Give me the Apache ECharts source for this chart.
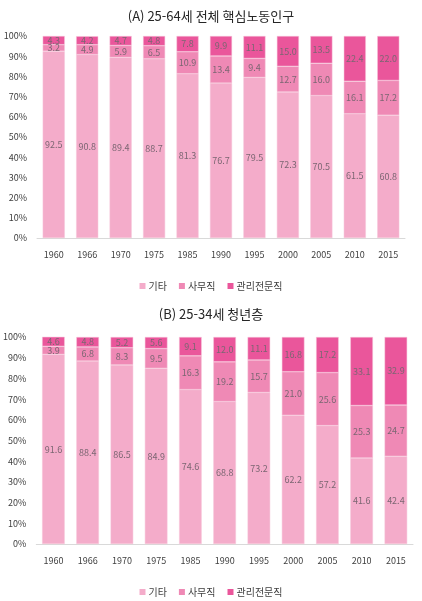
<!DOCTYPE html>
<html lang="ko">
<head>
    <meta charset="UTF-8">
    <title>핵심노동인구 직업 구성</title>
    <script src="https://cdn.jsdelivr.net/npm/echarts@6/dist/echarts.min.js"></script>
    <style>
        html, body { margin: 0; padding: 0; background: #fff; }
        #chart { width: 422px; height: 601px; }
    </style>
</head>
<body>
<div id="chart"></div>
<script>
    var years = ['1960', '1966', '1970', '1975', '1985', '1990', '1995', '2000', '2005', '2010', '2015'];
    var seriesNames = ['기타', '사무직', '관리전문직'];
    var colors = ['#f4acca', '#ef89b5', '#ea569b'];

    // (A) 25-64세
    var etcA = [92.5, 90.8, 89.4, 88.7, 81.3, 76.7, 79.5, 72.3, 70.5, 61.5, 60.8];
    var officeA = [3.2, 4.9, 5.9, 6.5, 10.9, 13.4, 9.4, 12.7, 16.0, 16.1, 17.2];
    var proA = [4.3, 4.2, 4.7, 4.8, 7.8, 9.9, 11.1, 15.0, 13.5, 22.4, 22.0];

    // (B) 25-34세
    var etcB = [91.6, 88.4, 86.5, 84.9, 74.6, 68.8, 73.2, 62.2, 57.2, 41.6, 42.4];
    var officeB = [3.9, 6.8, 8.3, 9.5, 16.3, 19.2, 15.7, 21.0, 25.6, 25.3, 24.7];
    var proB = [4.6, 4.8, 5.2, 5.6, 9.1, 12.0, 11.1, 16.8, 17.2, 33.1, 32.9];

    var font = '"Noto Sans CJK KR", "Noto Sans", sans-serif';

    function xAxisFor(idx) {
        return {
            type: 'category', gridIndex: idx, data: years,
            axisLine: { lineStyle: { color: '#d9d9d9' } },
            axisTick: { show: false },
            axisLabel: { color: '#404040', fontSize: 9, margin: 12, fontFamily: font }
        };
    }
    function yAxisFor(idx) {
        return {
            type: 'value', gridIndex: idx, min: 0, max: 100, interval: 10,
            axisLine: { show: false }, axisTick: { show: false },
            splitLine: { show: false },
            axisLabel: { color: '#404040', fontSize: 9, margin: 10, formatter: '{value}%', fontFamily: font }
        };
    }
    function barSeries(name, data, idx, color) {
        return {
            name: name, type: 'bar', stack: 'g' + idx,
            xAxisIndex: idx, yAxisIndex: idx,
            data: data, barCategoryGap: '34%',
            itemStyle: { color: color, borderColor: '#f7c6da', borderWidth: 0.5 },
            label: {
                show: true, position: 'inside', fontSize: 9, color: '#7b6672',
                fontFamily: font,
                formatter: function (p) { return p.value.toFixed(1); }
            }
        };
    }
    function legendFor(top) {
        return {
            top: top, left: 'center', itemWidth: 6, itemHeight: 6, itemGap: 12,
            icon: 'rect', data: seriesNames,
            itemStyle: { borderWidth: 0 },
            textStyle: { color: '#404040', fontSize: 10, fontFamily: font, padding: [0, 0, 0, -2] }
        };
    }

    var chart = echarts.init(document.getElementById('chart'));
    chart.setOption({
        animation: false,
        color: colors,
        title: [
            { text: '(A) 25-64세 전체 핵심노동인구', left: 'center', top: 5,
              textStyle: { fontSize: 13, fontWeight: 'normal', color: '#262626', fontFamily: font } },
            { text: '(B) 25-34세 청년층', left: 'center', top: 303,
              textStyle: { fontSize: 13, fontWeight: 'normal', color: '#262626', fontFamily: font } }
        ],
        legend: [legendFor(276), legendFor(582)],
        grid: [
            { left: 37, right: 17, top: 36, bottom: 363 },
            { left: 32, right: 9, top: 337, bottom: 57 }
        ],
        xAxis: [xAxisFor(0), xAxisFor(1)],
        yAxis: [yAxisFor(0), yAxisFor(1)],
        series: [
            barSeries(seriesNames[0], etcA, 0, colors[0]),
            barSeries(seriesNames[1], officeA, 0, colors[1]),
            barSeries(seriesNames[2], proA, 0, colors[2]),
            barSeries(seriesNames[0], etcB, 1, colors[0]),
            barSeries(seriesNames[1], officeB, 1, colors[1]),
            barSeries(seriesNames[2], proB, 1, colors[2])
        ]
    });
</script>
</body>
</html>
